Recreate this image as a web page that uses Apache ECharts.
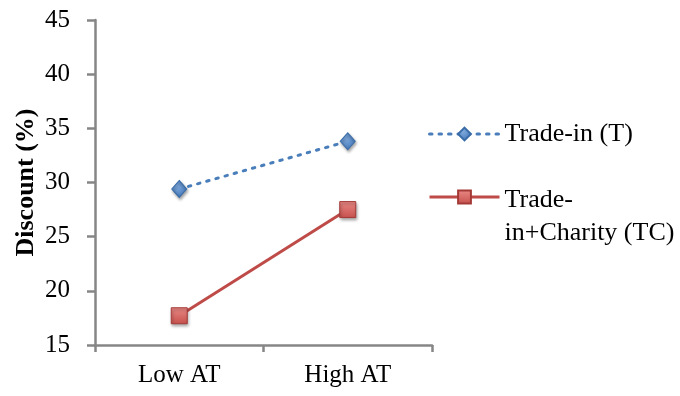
<!DOCTYPE html>
<html>
<head>
<meta charset="utf-8">
<script src="https://cdn.jsdelivr.net/npm/echarts@6/dist/echarts.min.js"></script>
<style>
  html, body { margin: 0; padding: 0; background: #fff; }
  #chart { width: 680px; height: 396px; }
</style>
</head>
<body>
<div id="chart"></div>
<script>
// Discount by AT level, two offer conditions
const categories = ['Low AT', 'High AT'];
const tradeIn = [29.4, 33.8];
const tradeInCharity = [17.7, 27.5];
const seriesNames = ['Trade-in (T)', 'Trade-in+Charity (TC)'];
const yTicks = { min: 15, max: 45, interval: 5 };
const yTitle = 'Discount (%)';

const FONT = '"Liberation Serif", "Times New Roman", serif';
const AXIS_GRAY = '#868686';

const chart = echarts.init(document.getElementById('chart'), null, { renderer: 'canvas' });

const blueFill = new echarts.graphic.RadialGradient(0.4, 0.35, 0.7, [
  { offset: 0, color: '#7fa9dc' },
  { offset: 1, color: '#3f75b8' }
]);
const redFill = new echarts.graphic.LinearGradient(0, 0, 0, 1, [
  { offset: 0, color: '#ea8a86' },
  { offset: 1, color: '#c6504c' }
]);

chart.setOption({
  animation: false,
  backgroundColor: '#ffffff',
  grid: { left: 95, top: 20, width: 337, height: 325, containLabel: false },
  legend: [
    {
      data: [seriesNames[0]],
      orient: 'vertical',
      left: 423,
      top: 116,
      itemWidth: 70,
      itemHeight: 16,
      lineStyle: { width: 3 },
      textStyle: { fontFamily: FONT, fontSize: 26, color: '#000' }
    },
    {
      data: [seriesNames[1]],
      orient: 'vertical',
      left: 423,
      top: 146,
      itemWidth: 70,
      itemHeight: 16,
      lineStyle: { width: 3 },
      // a blank first line keeps "Trade-" level with the icon
      formatter: () => '{gap|}\n{t|Trade-}\n{t|in+Charity (TC)}',
      textStyle: {
        fontFamily: FONT, fontSize: 26, color: '#000',
        rich: {
          gap: { lineHeight: 39, fontSize: 26, fontFamily: FONT },
          t: { lineHeight: 33, fontSize: 26, fontFamily: FONT, color: '#000' }
        }
      }
    }
  ],
  xAxis: {
    type: 'category',
    data: categories,
    boundaryGap: true,
    axisLine: { lineStyle: { color: AXIS_GRAY, width: 2.5 } },
    axisTick: { show: true, length: 7, lineStyle: { color: AXIS_GRAY, width: 2.5 } },
    axisLabel: { fontFamily: FONT, fontSize: 25, color: '#000', margin: 18 }
  },
  yAxis: {
    type: 'value',
    min: yTicks.min,
    max: yTicks.max,
    interval: yTicks.interval,
    name: yTitle,
    nameLocation: 'middle',
    nameGap: 56,
    nameTextStyle: { fontFamily: FONT, fontSize: 26, fontWeight: 'bold', color: '#000' },
    splitLine: { show: false },
    axisLine: { show: true, lineStyle: { color: AXIS_GRAY, width: 2.5 } },
    axisTick: { show: true, length: 8, lineStyle: { color: AXIS_GRAY, width: 2.5 } },
    axisLabel: { fontFamily: FONT, fontSize: 25, color: '#000', margin: 25 }
  },
  series: [
    {
      name: seriesNames[0],
      type: 'line',
      data: tradeIn,
      symbol: 'diamond',
      symbolSize: [15, 17],
      lineStyle: { color: '#4a7ebb', width: 3, type: [2.5, 7], cap: 'round' },
      itemStyle: {
        color: blueFill, borderColor: '#3a6ca8', borderWidth: 1,
        shadowBlur: 3, shadowColor: 'rgba(0,0,0,0.35)', shadowOffsetX: 1, shadowOffsetY: 2
      }
    },
    {
      name: seriesNames[1],
      type: 'line',
      data: tradeInCharity,
      symbol: 'rect',
      symbolSize: 16,
      lineStyle: { color: '#be4b48', width: 3 },
      itemStyle: {
        color: redFill, borderColor: '#a33a37', borderWidth: 1,
        shadowBlur: 3, shadowColor: 'rgba(0,0,0,0.35)', shadowOffsetX: 1, shadowOffsetY: 2
      }
    }
  ]
});
</script>
</body>
</html>
